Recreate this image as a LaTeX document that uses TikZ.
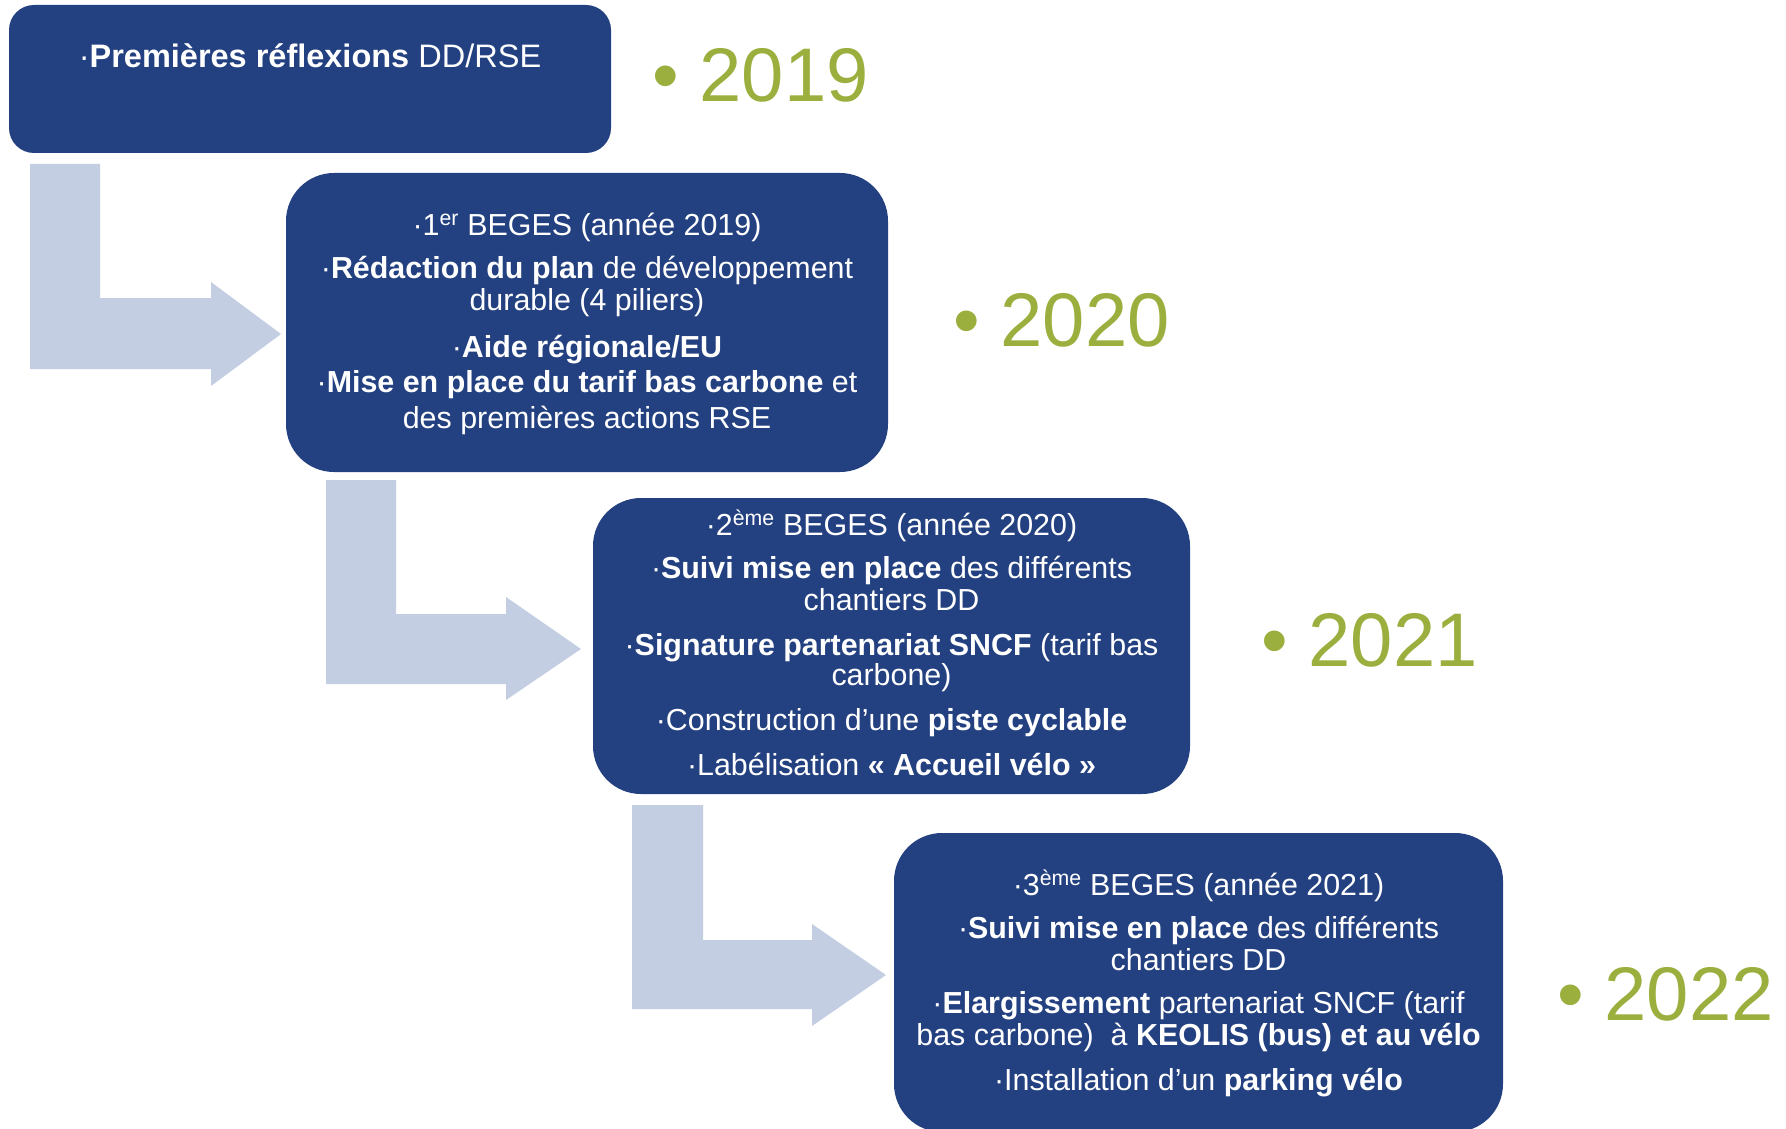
\documentclass[tikz,border=0pt]{standalone}
\usepackage{fontspec}
\setmainfont{Liberation Sans}
\definecolor{boxblue}{HTML}{234080}
\definecolor{arrowgray}{HTML}{C4CEE2}
\definecolor{yeargreen}{HTML}{9BAF3E}
\begin{document}
\begin{tikzpicture}[x=1pt,y=-1pt,
  box/.style={draw=none,fill=boxblue,inner sep=0pt},
  txt/.style={anchor=base,inner sep=0pt,text=white,font=\fontsize{30.4}{36}\selectfont},
  year/.style={anchor=base east,inner sep=0pt,text=yeargreen,font=\fontsize{76}{80}\selectfont},
  bentarrow/.style={fill=arrowgray,draw=none}]
\useasboundingbox (0,0) rectangle (1786,1129);
\clip (0,0) rectangle (1786,1129);
\fill[white] (0,0) rectangle (1786,1129);

% bent arrows
\fill[bentarrow] (30,164) -- (100,164) -- (100,298) -- (211,298) -- (211,282) -- (281,334) -- (211,386) -- (211,369) -- (30,369) -- cycle;
\fill[bentarrow] (326,480) -- (396,480) -- (396,614) -- (506,614) -- (506,597) -- (581,649) -- (506,700) -- (506,684) -- (326,684) -- cycle;
\fill[bentarrow] (632,805) -- (703,805) -- (703,940) -- (812,940) -- (812,924) -- (886,975) -- (812,1026) -- (812,1009) -- (632,1009) -- cycle;

% boxes
\node[box,minimum width=602pt,minimum height=148pt,rounded corners=25pt] (b1) at (310,79) {};
\node[box,minimum width=602pt,minimum height=299pt,rounded corners=48pt] (b2) at (587,322.5) {};
\node[box,minimum width=597pt,minimum height=296pt,rounded corners=48pt] (b3) at (891.5,646) {};
\node[box,minimum width=609pt,minimum height=299pt,rounded corners=48pt] (b4) at (1198.5,982.5) {};

% box 1 text
\node[txt,font=\fontsize{32.5}{36}\selectfont] (t1a) at (310,68) {·\textbf{Premières réflexions} DD/RSE};

% box 2 text
\node[txt] (t2a) at (587,235) {·1\textsuperscript{er} BEGES (année 2019)};
\node[txt] (t2b) at (587,278) {·\textbf{Rédaction du plan} de développement};
\node[txt] (t2c) at (587,310) {durable (4 piliers)};
\node[txt] (t2d) at (587,357) {·\textbf{Aide régionale/EU}};
\node[txt] (t2e) at (587,392) {·\textbf{Mise en place du tarif bas carbone} et};
\node[txt] (t2f) at (587,428) {des premières actions RSE};

% box 3 text
\node[txt] (t3a) at (891.5,535) {·2\textsuperscript{ème} BEGES (année 2020)};
\node[txt] (t3b) at (891.5,578) {·\textbf{Suivi mise en place} des différents};
\node[txt] (t3c) at (891.5,610) {chantiers DD};
\node[txt] (t3d) at (891.5,655) {·\textbf{Signature partenariat SNCF} (tarif bas};
\node[txt] (t3e) at (891.5,685) {carbone)};
\node[txt] (t3f) at (891.5,730) {·Construction d’une \textbf{piste cyclable}};
\node[txt] (t3g) at (891.5,775) {·Labélisation \textbf{« Accueil vélo »}};

% box 4 text
\node[txt] (t4a) at (1198.5,895) {·3\textsuperscript{ème} BEGES (année 2021)};
\node[txt] (t4b) at (1198.5,938) {·\textbf{Suivi mise en place} des différents};
\node[txt] (t4c) at (1198.5,970) {chantiers DD};
\node[txt] (t4d) at (1198.5,1013) {·\textbf{Elargissement} partenariat SNCF (tarif};
\node[txt] (t4e) at (1198.5,1045) {bas carbone)~ à \textbf{KEOLIS (bus) et au vélo}};
\node[txt] (t4f) at (1198.5,1090) {·Installation d’un \textbf{parking vélo}};

% years
\node[year] (y2019) at (869,102) {• 2019};
\node[year] (y2020) at (1170,346) {• 2020};
\node[year] (y2021) at (1478,666) {• 2021};
\node[year] (y2022) at (1774,1020) {• 2022};
\end{tikzpicture}
\end{document}
